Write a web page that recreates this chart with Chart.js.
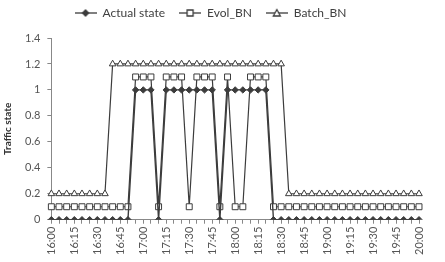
<!DOCTYPE html>
<html>
<head>
<meta charset="utf-8">
<script src="https://cdn.jsdelivr.net/npm/chart.js@4"></script>
<style>
  html, body { margin: 0; padding: 0; background: #fff; }
  #wrap { width: 445px; height: 262px; }
</style>
</head>
<body>
<div id="wrap"><canvas id="chart" width="445" height="262"></canvas></div>
<script>
// categories: every 5 minutes from 16:00 to 20:00
const times = [
  '16:00', '16:05', '16:10', '16:15', '16:20', '16:25', '16:30', '16:35', '16:40', '16:45', '16:50', '16:55',
  '17:00', '17:05', '17:10', '17:15', '17:20', '17:25', '17:30', '17:35', '17:40', '17:45', '17:50', '17:55',
  '18:00', '18:05', '18:10', '18:15', '18:20', '18:25', '18:30', '18:35', '18:40', '18:45', '18:50', '18:55',
  '19:00', '19:05', '19:10', '19:15', '19:20', '19:25', '19:30', '19:35', '19:40', '19:45', '19:50', '19:55',
  '20:00'
];

const actualState = [
  0, 0, 0, 0, 0, 0, 0, 0, 0, 0, 0, 1,
  1, 1, 0, 1, 1, 1, 1, 1, 1, 1, 0, 1,
  1, 1, 1, 1, 1, 0, 0, 0, 0, 0, 0, 0,
  0, 0, 0, 0, 0, 0, 0, 0, 0, 0, 0, 0,
  0
];

const evolBN = [
  0.1, 0.1, 0.1, 0.1, 0.1, 0.1, 0.1, 0.1, 0.1, 0.1, 0.1, 1.1,
  1.1, 1.1, 0.1, 1.1, 1.1, 1.1, 0.1, 1.1, 1.1, 1.1, 0.1, 1.1,
  0.1, 0.1, 1.1, 1.1, 1.1, 0.1, 0.1, 0.1, 0.1, 0.1, 0.1, 0.1,
  0.1, 0.1, 0.1, 0.1, 0.1, 0.1, 0.1, 0.1, 0.1, 0.1, 0.1, 0.1,
  0.1
];

const batchBN = [
  0.2, 0.2, 0.2, 0.2, 0.2, 0.2, 0.2, 0.2, 1.2, 1.2, 1.2, 1.2,
  1.2, 1.2, 1.2, 1.2, 1.2, 1.2, 1.2, 1.2, 1.2, 1.2, 1.2, 1.2,
  1.2, 1.2, 1.2, 1.2, 1.2, 1.2, 1.2, 0.2, 0.2, 0.2, 0.2, 0.2,
  0.2, 0.2, 0.2, 0.2, 0.2, 0.2, 0.2, 0.2, 0.2, 0.2, 0.2, 0.2,
  0.2
];

const yTicks = [0, 0.2, 0.4, 0.6, 0.8, 1, 1.2, 1.4];
const xLabelEvery = 3; // a label every 15 minutes

const lineColor = '#3c3c3c';
const textColor = '#555555';
const fontFamily = 'Lato, "Liberation Sans", sans-serif';

// small legend swatch: a line with the marker in the middle
function legendSwatch(style) {
  const c = document.createElement('canvas');
  c.width = 22;
  c.height = 10;
  const ctx = c.getContext('2d');
  ctx.strokeStyle = lineColor;
  ctx.lineWidth = 1.3;
  ctx.beginPath();
  ctx.moveTo(0, 5);
  ctx.lineTo(22, 5);
  ctx.stroke();
  ctx.beginPath();
  if (style === 'diamond') {
    ctx.moveTo(11, 2); ctx.lineTo(14, 5); ctx.lineTo(11, 8); ctx.lineTo(8, 5);
    ctx.closePath();
    ctx.fillStyle = lineColor;
    ctx.fill();
  } else if (style === 'square') {
    ctx.rect(8, 2, 6, 6);
    ctx.fillStyle = '#fff';
    ctx.fill();
  } else {
    ctx.moveTo(11, 1.5); ctx.lineTo(14.5, 8); ctx.lineTo(7.5, 8);
    ctx.closePath();
    ctx.fillStyle = '#fff';
    ctx.fill();
  }
  ctx.stroke();
  return c;
}

const swatches = [legendSwatch('diamond'), legendSwatch('square'), legendSwatch('triangle')];

const legendMargin = {
  id: 'legendMargin',
  beforeInit(chart) {
    const fit = chart.legend.fit;
    chart.legend.fit = function () {
      fit.bind(chart.legend)();
      this.height += 9;
    };
  }
};

const ctx = document.getElementById('chart').getContext('2d');
new Chart(ctx, {
  type: 'line',
  data: {
    labels: times,
    datasets: [
      {
        label: 'Actual state',
        data: actualState,
        borderColor: lineColor,
        borderWidth: 1.4,
        pointStyle: 'rectRot',
        pointRadius: 3.2,
        pointBackgroundColor: lineColor,
        pointBorderColor: lineColor,
        pointBorderWidth: 1
      },
      {
        label: 'Evol_BN',
        data: evolBN,
        borderColor: lineColor,
        borderWidth: 1.2,
        pointStyle: 'rect',
        pointRadius: 4.2,
        pointBackgroundColor: '#fff',
        pointBorderColor: lineColor,
        pointBorderWidth: 1
      },
      {
        label: 'Batch_BN',
        data: batchBN,
        borderColor: lineColor,
        borderWidth: 1.2,
        pointStyle: 'triangle',
        pointRadius: 3.8,
        pointBackgroundColor: '#fff',
        pointBorderColor: lineColor,
        pointBorderWidth: 1
      }
    ]
  },
  options: {
    responsive: false,
    animation: false,
    layout: { padding: { left: 2, right: 26, top: -7, bottom: 4 } },
    plugins: {
      tooltip: { enabled: false },
      legend: {
        position: 'top',
        labels: {
          usePointStyle: true,
          pointStyleWidth: 22,
          boxHeight: 12,
          padding: 14,
          color: '#404040',
          font: { family: fontFamily, size: 12 },
          generateLabels: (chart) => chart.data.datasets.map((ds, i) => ({
            text: ds.label,
            pointStyle: swatches[i],
            fontColor: '#404040',
            datasetIndex: i,
            hidden: false,
            lineWidth: 0
          }))
        }
      }
    },
    scales: {
      x: {
        type: 'category',
        offset: false,
        grid: { drawOnChartArea: false, drawTicks: true, tickLength: 4, color: '#888' },
        border: { display: true, color: '#888', width: 1 },
        ticks: {
          autoSkip: false,
          maxRotation: 90,
          minRotation: 90,
          padding: 3,
          color: textColor,
          font: { family: fontFamily, size: 11 },
          callback: (v, i) => (i % xLabelEvery === 0 ? times[i] : '')
        }
      },
      y: {
        min: 0,
        max: 1.4,
        afterBuildTicks: (axis) => { axis.ticks = yTicks.map(v => ({ value: v })); },
        grid: { drawOnChartArea: false, drawTicks: true, tickLength: 4, color: '#888' },
        border: { display: true, color: '#888', width: 1 },
        ticks: {
          padding: 7,
          color: textColor,
          font: { family: fontFamily, size: 11 },
          callback: (v) => String(v)
        },
        title: {
          display: true,
          text: 'Traffic state',
          color: '#333',
          font: { family: fontFamily, size: 10, weight: 'bold' },
          padding: { top: 0, bottom: 4 }
        }
      }
    }
  },
  plugins: [legendMargin]
});
</script>
</body>
</html>
